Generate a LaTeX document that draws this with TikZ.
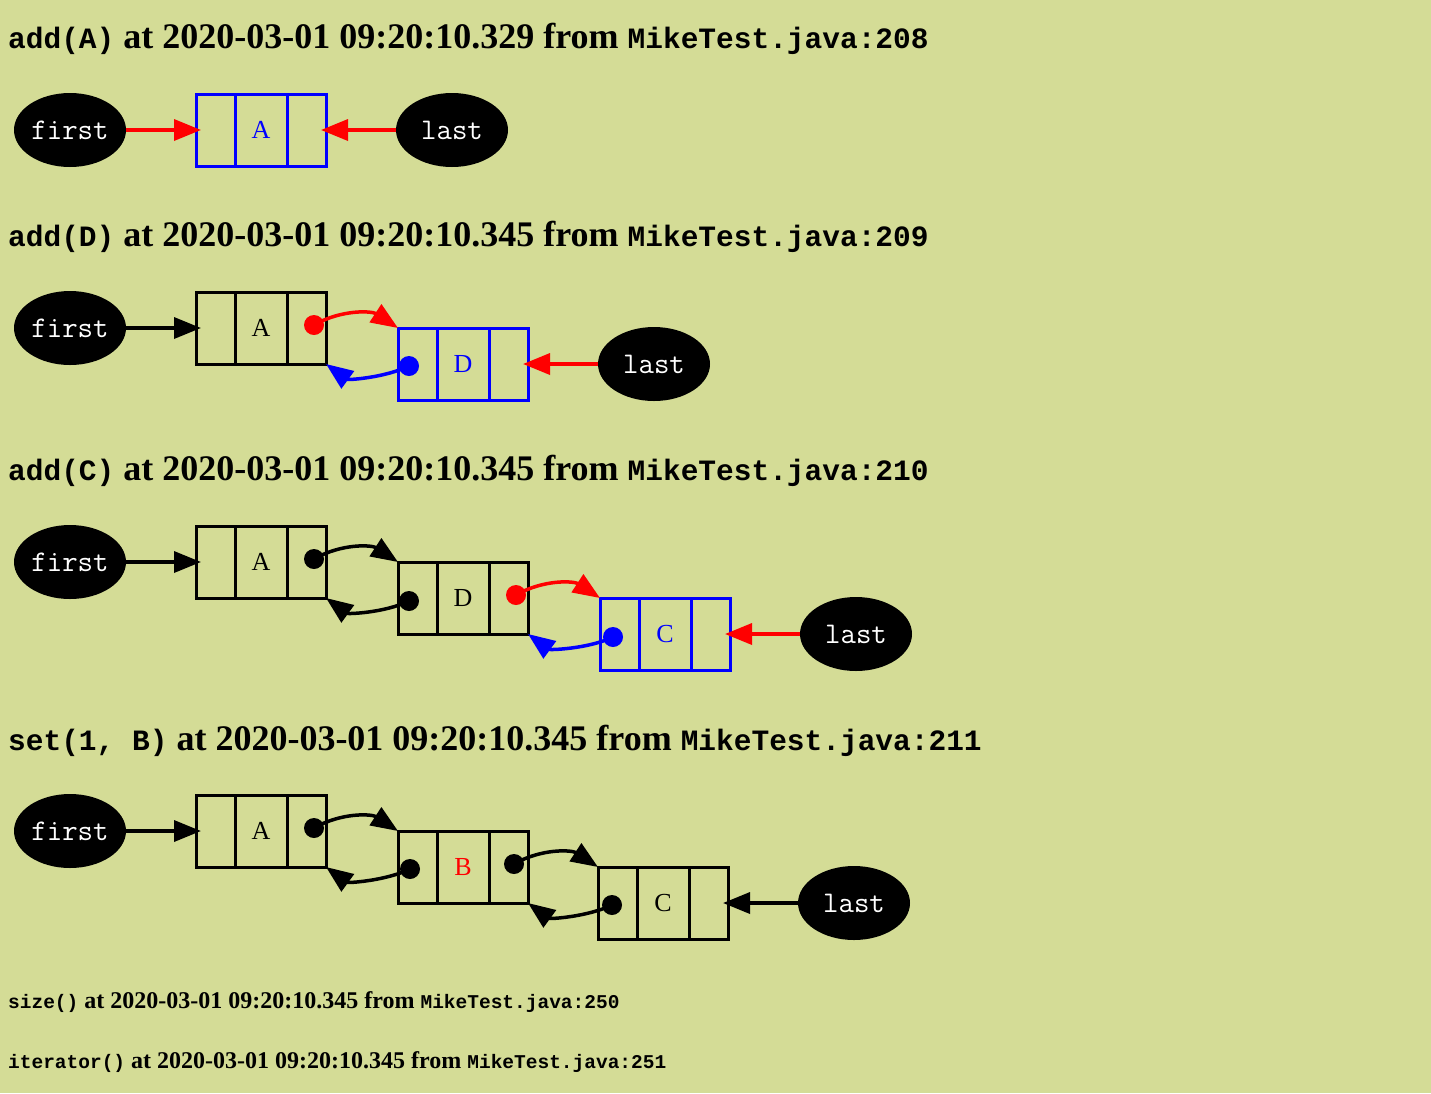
\documentclass[tikz,border=0pt]{standalone}
\usepackage{fontspec}
\setmainfont{Liberation Serif}
\setmonofont{Liberation Mono}
\newfontfamily\lmmono{Latin Modern Mono}
\usetikzlibrary{shapes.geometric,arrows.meta}
\definecolor{bg}{RGB}{212,220,150}
\newcommand{\hmono}[1]{{\fontsize{29.5}{32}\selectfont\ttfamily\bfseries #1}}
\newcommand{\smono}[1]{{\fontsize{19.5}{22}\selectfont\ttfamily\bfseries #1}}
\newcommand{\divs}[2]{\draw[line width=3pt,#2] ([xshift=39pt]#1.north west) -- ([xshift=39pt]#1.south west) ([xshift=-39pt]#1.north east) -- ([xshift=-39pt]#1.south east);}
\begin{document}
\begin{tikzpicture}[x=1pt,y=-1pt,
 ptr/.style={ellipse, fill=black, minimum width=112pt, minimum height=74pt, inner sep=0pt, outer sep=0pt, text=white, font=\fontsize{30}{32}\lmmono},
 cellbox/.style={draw, line width=3pt, minimum width=130pt, minimum height=72pt, inner sep=0pt, outer sep=0pt, font=\fontsize{26}{28}\selectfont},
 head/.style={anchor=base west, inner sep=0pt, font=\fontsize{36}{38}\selectfont\bfseries},
 shead/.style={anchor=base west, inner sep=0pt, font=\fontsize{24}{26}\selectfont\bfseries},
 link/.style={line width=3.5pt, -{Triangle[length=27pt,width=21pt]}},
 dot/.style={circle, inner sep=0pt, minimum size=20pt},
]
\path[use as bounding box, fill=bg] (0,0) rectangle (1431,1093);

% ---------- add(A)
\node[head] (h1) at (8,48) {\hmono{add(A)} at 2020-03-01 09:20:10.329 from \hmono{MikeTest.java:208}};
\node[ptr] (f1) at (70,130) {first};
\node[cellbox, draw=blue, text=blue] (a1) at (261,130) {A};
\divs{a1}{blue}
\node[ptr] (l1) at (452,130) {last};
\draw[link, red] (f1.east) -- ([xshift=5pt]a1.west);
\draw[link, red] (l1.west) -- ([xshift=-5pt]a1.east);

% ---------- add(D)
\node[head] (h2) at (8,246) {\hmono{add(D)} at 2020-03-01 09:20:10.345 from \hmono{MikeTest.java:209}};
\node[ptr] (f2) at (70,328) {first};
\node[cellbox] (a2) at (261,328) {A};
\divs{a2}{black}
\node[cellbox, draw=blue, text=blue] (d2) at (463,364) {D};
\divs{d2}{blue}
\node[ptr] (l2) at (654,364) {last};
\draw[link] (f2.east) -- ([xshift=5pt]a2.west);
\draw[link, red] (l2.west) -- ([xshift=-5pt]d2.east);
\node[dot, fill=red] (p2) at (314,325) {};
\node[dot, fill=blue] (q2) at (409,366) {};
\draw[link, red] (p2.center) .. controls +(28,-16) and +(-26,-17) .. (d2.north west);
\draw[link, blue] (q2.center) .. controls +(-25,12) and +(22,16) .. (a2.south east);

% ---------- add(C)
\node[head] (h3) at (8,480) {\hmono{add(C)} at 2020-03-01 09:20:10.345 from \hmono{MikeTest.java:210}};
\node[ptr] (f3) at (70,562) {first};
\node[cellbox] (a3) at (261,562) {A};
\divs{a3}{black}
\node[cellbox] (d3) at (463,598) {D};
\divs{d3}{black}
\node[cellbox, draw=blue, text=blue] (c3) at (665,634) {C};
\divs{c3}{blue}
\node[ptr] (l3) at (856,634) {last};
\draw[link] (f3.east) -- ([xshift=5pt]a3.west);
\draw[link, red] (l3.west) -- ([xshift=-5pt]c3.east);
\node[dot, fill=black] (p3) at (314,559) {};
\node[dot, fill=black] (q3) at (409,601) {};
\node[dot, fill=red] (r3) at (516,595) {};
\node[dot, fill=blue] (s3) at (613,637) {};
\draw[link] (p3.center) .. controls +(28,-16) and +(-26,-17) .. (d3.north west);
\draw[link] (q3.center) .. controls +(-25,12) and +(22,16) .. (a3.south east);
\draw[link, red] (r3.center) .. controls +(28,-16) and +(-26,-17) .. (c3.north west);
\draw[link, blue] (s3.center) .. controls +(-25,12) and +(22,16) .. (d3.south east);

% ---------- set(1, B)
\node[head] (h4) at (8,750) {\hmono{set(1, B)} at 2020-03-01 09:20:10.345 from \hmono{MikeTest.java:211}};
\node[ptr] (f4) at (70,831) {first};
\node[cellbox] (a4) at (261,831) {A};
\divs{a4}{black}
\node[cellbox, text=red] (b4) at (463,867) {B};
\divs{b4}{black}
\node[cellbox] (c4) at (663,903) {C};
\divs{c4}{black}
\node[ptr] (l4) at (854,903) {last};
\draw[link] (f4.east) -- ([xshift=5pt]a4.west);
\draw[link] (l4.west) -- ([xshift=-5pt]c4.east);
\node[dot, fill=black] (p4) at (314,828) {};
\node[dot, fill=black] (q4) at (410,869) {};
\node[dot, fill=black] (r4) at (514,864) {};
\node[dot, fill=black] (s4) at (612,905) {};
\draw[link] (p4.center) .. controls +(28,-16) and +(-26,-17) .. (b4.north west);
\draw[link] (q4.center) .. controls +(-25,12) and +(22,16) .. (a4.south east);
\draw[link] (r4.center) .. controls +(28,-16) and +(-26,-17) .. (c4.north west);
\draw[link] (s4.center) .. controls +(-25,12) and +(22,16) .. (b4.south east);

% ---------- small headings
\node[shead] (h5) at (8,1008) {\smono{size()} at 2020-03-01 09:20:10.345 from \smono{MikeTest.java:250}};
\node[shead] (h6) at (8,1068) {\smono{iterator()} at 2020-03-01 09:20:10.345 from \smono{MikeTest.java:251}};
\end{tikzpicture}
\end{document}
